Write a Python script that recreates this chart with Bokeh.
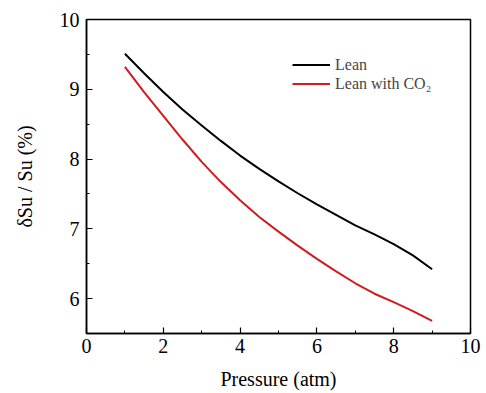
from bokeh.plotting import figure
from bokeh.models import SingleIntervalTicker, Legend, LegendItem, Range1d
from bokeh.embed import file_html
from bokeh.resources import INLINE

pressure = [1, 1.5, 2, 2.5, 3, 3.5, 4, 4.5, 5, 5.5, 6, 6.5, 7, 7.5, 8, 8.5, 9]
lean = [9.51, 9.23, 8.96, 8.71, 8.48, 8.26, 8.05, 7.86, 7.68, 7.51, 7.35, 7.20, 7.05, 6.92, 6.78, 6.62, 6.42]
lean_co2 = [9.32, 8.96, 8.62, 8.28, 7.96, 7.67, 7.41, 7.17, 6.96, 6.76, 6.57, 6.39, 6.22, 6.07, 5.95, 5.82, 5.68]

FONT = "Liberation Serif"

p = figure(width=486, height=393, output_backend="svg", toolbar_location=None,
           x_range=Range1d(0, 10), y_range=Range1d(5.5, 10),
           min_border_left=86, min_border_right=16, min_border_top=19, min_border_bottom=60)
p.background_fill_color = "white"
p.border_fill_color = "white"
p.grid.visible = False
p.outline_line_color = "black"
p.outline_line_width = 1.5

p.xaxis.ticker = SingleIntervalTicker(interval=2, num_minor_ticks=2)
p.yaxis.ticker = SingleIntervalTicker(interval=1, num_minor_ticks=2)

for ax in (p.xaxis[0], p.yaxis[0]):
    ax.major_tick_in = 6
    ax.major_tick_out = 0
    ax.minor_tick_in = 3
    ax.minor_tick_out = 0
    ax.axis_line_width = 1.5
    ax.major_tick_line_width = 1.2
    ax.major_label_text_font = FONT
    ax.major_label_text_font_size = "20px"
    ax.major_label_text_color = "black"
    ax.axis_label_text_font = FONT
    ax.axis_label_text_font_size = "20px"
    ax.axis_label_text_font_style = "normal"
    ax.axis_label_text_color = "black"

p.xaxis.axis_label = "Pressure (atm)"
p.yaxis.axis_label = "δSu / Su (%)"
p.xaxis.major_label_standoff = 5
p.yaxis.major_label_standoff = 7
p.xaxis.axis_label_standoff = 12
p.yaxis.axis_label_standoff = 21

r1 = p.line(pressure, lean, line_color="black", line_width=2)
r2 = p.line(pressure, lean_co2, line_color="#d01c1f", line_width=2)

legend = Legend(items=[LegendItem(label="Lean", renderers=[r1]),
                       LegendItem(label="Lean with CO₂", renderers=[r2])],
                location=(206, 240), glyph_width=38, glyph_height=19,
                label_height=19, spacing=0, padding=0, margin=0,
                label_standoff=5, border_line_color=None,
                background_fill_alpha=0,
                label_text_font=FONT, label_text_font_size="16px")
p.add_layout(legend, "center")

open("out.html", "w").write(file_html(p, INLINE))
